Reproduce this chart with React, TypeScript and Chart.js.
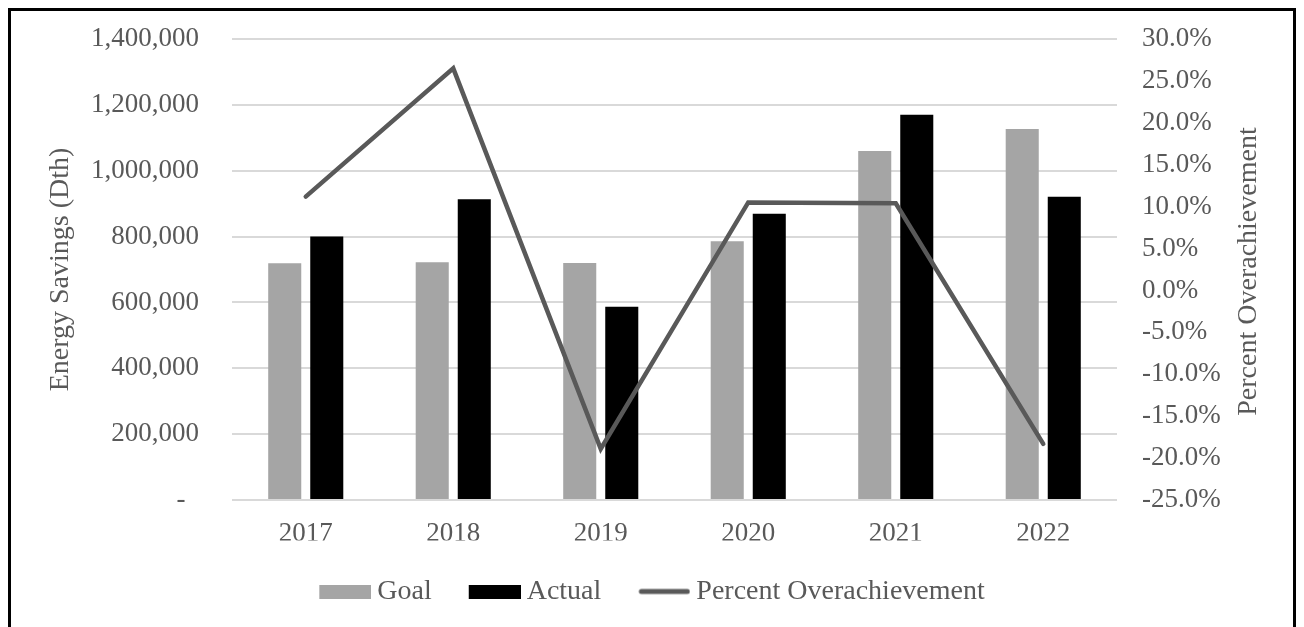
import { useEffect, useRef } from "react";
import { Chart, registerables } from "chart.js";

Chart.register(...registerables);

// Program years on the category axis
const years = ["2017", "2018", "2019", "2020", "2021", "2022"];

// Energy savings in Dth
const goalSavings = [719000, 722000, 720000, 786000, 1060000, 1127000];
const actualSavings = [800000, 913000, 587000, 869000, 1170000, 921000];

// (actual - goal) / goal, as a fraction
const percentOverachievement = [0.112, 0.265, -0.189, 0.105, 0.104, -0.183];

// Axis ranges
const savingsMin = 0;
const savingsMax = 1400000;
const savingsStep = 200000;
const percentMin = -0.25;
const percentMax = 0.3;
const percentStep = 0.05;

const leftTitle = "Energy Savings (Dth)";
const rightTitle = "Percent Overachievement";

const FONT = "'Liberation Serif', 'Times New Roman', serif";
const TEXT = "#595959";
const GOAL_COLOR = "#A5A5A5";
const ACTUAL_COLOR = "#000000";
const LINE_COLOR = "#595959";

// Legend swatches: a 52px box (or line) offset inside a 60px image
function swatch(kind: "box" | "line", color: string): HTMLCanvasElement {
  const c = document.createElement("canvas");
  c.width = 60;
  c.height = 14;
  const ctx = c.getContext("2d")!;
  if (kind === "box") {
    ctx.fillStyle = color;
    ctx.fillRect(8, 0, 52, 14);
  } else {
    ctx.strokeStyle = color;
    ctx.lineWidth = 5;
    ctx.lineCap = "round";
    ctx.beginPath();
    ctx.moveTo(11, 7);
    ctx.lineTo(57, 7);
    ctx.stroke();
  }
  return c;
}

// Right-hand axis title, reading bottom-to-top like the left one
const rightTitlePlugin = {
  id: "rightTitle",
  afterDraw(chart: any) {
    const { ctx, chartArea } = chart;
    const scale = chart.scales.y1;
    ctx.save();
    ctx.translate(scale.right - 44, (chartArea.top + chartArea.bottom) / 2 + 2);
    ctx.rotate(-Math.PI / 2);
    ctx.fillStyle = TEXT;
    ctx.font = `28px ${FONT}`;
    ctx.textAlign = "center";
    ctx.textBaseline = "middle";
    ctx.fillText(rightTitle, 0, 0);
    ctx.restore();
  },
};

export default function App() {
  const canvasRef = useRef<HTMLCanvasElement | null>(null);

  useEffect(() => {
    const canvas = canvasRef.current;
    if (!canvas) return;

    const swatches = [
      swatch("line", LINE_COLOR),
      swatch("box", GOAL_COLOR),
      swatch("box", ACTUAL_COLOR),
    ];

    const chart = new Chart(canvas, {
      type: "bar",
      data: {
        labels: years,
        datasets: [
          {
            type: "line",
            label: rightTitle,
            data: percentOverachievement,
            yAxisID: "y1",
            borderColor: LINE_COLOR,
            backgroundColor: LINE_COLOR,
            borderWidth: 4.5,
            borderCapStyle: "round",
            borderJoinStyle: "miter",
            pointRadius: 0,
            tension: 0,
            order: 0,
          },
          {
            type: "bar",
            label: "Goal",
            data: goalSavings,
            yAxisID: "y",
            backgroundColor: GOAL_COLOR,
            borderWidth: 0,
            categoryPercentage: 0.57,
            barPercentage: 0.786,
            order: 1,
          },
          {
            type: "bar",
            label: "Actual",
            data: actualSavings,
            yAxisID: "y",
            backgroundColor: ACTUAL_COLOR,
            borderWidth: 0,
            categoryPercentage: 0.57,
            barPercentage: 0.786,
            order: 2,
          },
        ],
      },
      options: {
        responsive: false,
        animation: false,
        devicePixelRatio: 1,
        layout: { padding: { top: 28, bottom: 35.5, left: 0, right: 0 } },
        plugins: {
          tooltip: { enabled: false },
          title: { display: false },
          legend: {
            position: "bottom",
            align: "center",
            labels: {
              usePointStyle: true,
              pointStyleWidth: 44,
              boxHeight: 14,
              padding: 37,
              color: TEXT,
              font: { family: FONT, size: 28 },
              sort: (a: any, b: any) => {
                const rank = [2, 0, 1];
                return rank[a.datasetIndex] - rank[b.datasetIndex];
              },
              generateLabels: (chart: any) => {
                const items = Chart.defaults.plugins.legend.labels.generateLabels(chart);
                return items.map((it: any) => ({
                  ...it,
                  pointStyle: swatches[it.datasetIndex],
                }));
              },
            },
          },
        },
        scales: {
          x: {
            grid: { display: false, drawTicks: false },
            border: { display: false },
            ticks: {
              color: TEXT,
              font: { family: FONT, size: 27 },
              padding: 18,
            },
            afterFit: (scale: any) => {
              scale.height = 40.5;
            },
          },
          y: {
            position: "left",
            min: savingsMin,
            max: savingsMax,
            grid: { color: "#D9D9D9", lineWidth: 2, drawTicks: false },
            border: { display: false },
            ticks: {
              stepSize: savingsStep,
              color: TEXT,
              font: { family: FONT, size: 27 },
              padding: 33,
              callback: (v: any) =>
                Number(v) === 0 ? "-  " : Number(v).toLocaleString("en-US"),
            },
            title: {
              display: true,
              text: leftTitle,
              color: TEXT,
              font: { family: FONT, size: 28 },
              padding: { top: 33.2, bottom: 0 },
            },
            afterFit: (scale: any) => {
              scale.width = 221;
              scale.paddingTop = 16;
              scale.paddingBottom = 16;
            },
          },
          y1: {
            position: "right",
            min: percentMin,
            max: percentMax,
            grid: { display: false, drawTicks: false },
            border: { display: false },
            ticks: {
              stepSize: percentStep,
              color: TEXT,
              font: { family: FONT, size: 27 },
              padding: 25,
              callback: (v: any) => (Number(v) * 100).toFixed(1) + "%",
            },
            afterFit: (scale: any) => {
              scale.width = 176;
              scale.paddingTop = 16;
              scale.paddingBottom = 16;
            },
          },
        },
      },
      plugins: [rightTitlePlugin],
    });

    return () => {
      chart.destroy();
    };
  }, []);

  return (
    <div style={{ border: "3px solid #000", background: "#fff" }}>
      <canvas
        ref={canvasRef}
        width={1282}
        height={640}
        style={{ display: "block", width: 1282, height: 640 }}
      />
    </div>
  );
}
